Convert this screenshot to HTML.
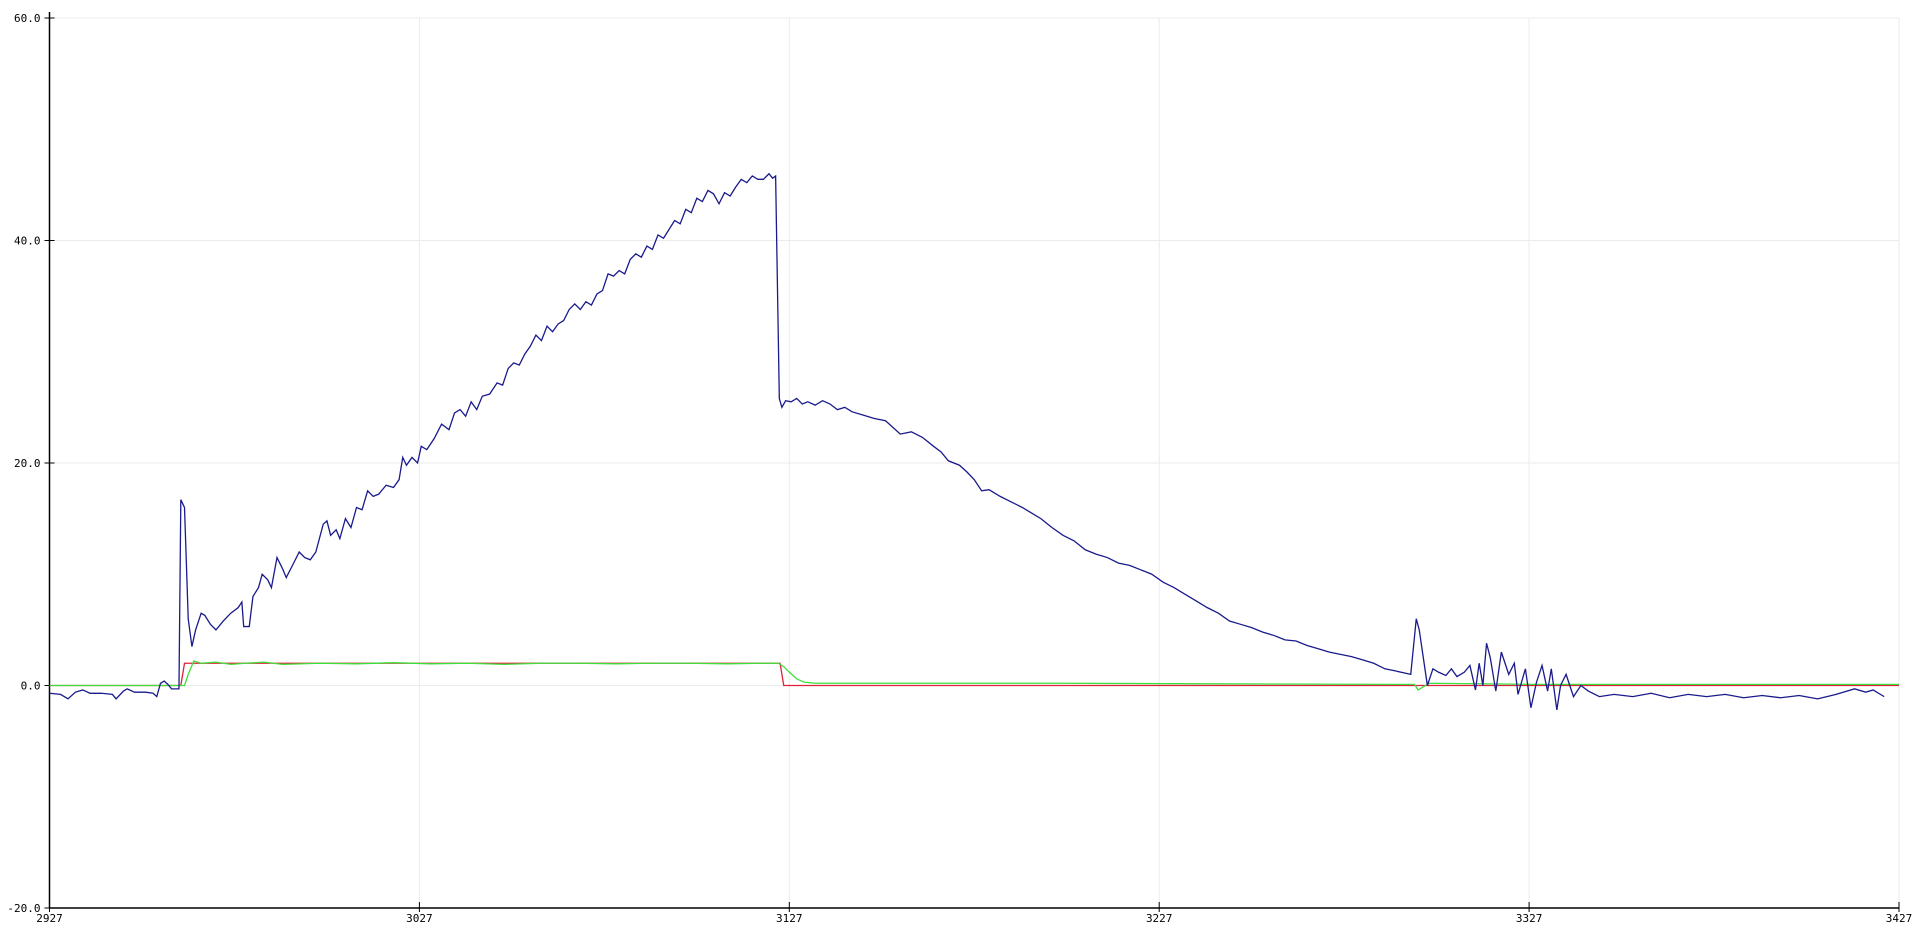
<!DOCTYPE html>
<html><head><meta charset="utf-8"><style>
html,body{margin:0;padding:0;background:#fff;}
svg{display:block;}
text{font-family:"DejaVu Sans Mono","Liberation Mono",monospace;font-size:11px;fill:#000;}
</style></head><body>
<svg id="chart" width="1915" height="937"></svg>
<script>
const xTicks=[2927,3027,3127,3227,3327,3427];
const yTicks=[-20,0,20,40,60];
const yTickLabels=["-20.0","0.0","20.0","40.0","60.0"];
const blueT=[2927,2930,2932,2934,2936,2938,2941,2944,2945,2947,2948,2950,2953,2955,2956,2957,2958,2959,2960,2962,2962.5,2963.5,2964.5,2965.5,2966.5,2968,2969,2970.5,2972,2974,2976,2978,2979,2979.5,2981,2982,2983.5,2984.5,2986,2987,2988.5,2990,2991,2993,2994.5,2996,2997.5,2999,3001,3002,3003,3004.5,3005.5,3007,3008.5,3010,3011.5,3013,3014.5,3016,3018,3020,3021.5,3022.5,3023.5,3025,3026.5,3027.5,3029,3031,3033,3035,3036.5,3038,3039.5,3041,3042.5,3044,3046,3048,3049.5,3051,3052.5,3054,3055.5,3057,3058.5,3060,3061.5,3063,3064.5,3066,3067.5,3069,3070.5,3072,3073.5,3075,3076.5,3078,3079.5,3081,3082.5,3084,3085.5,3087,3088.5,3090,3091.5,3093,3094.5,3096,3097.5,3099,3100.5,3102,3103.5,3105,3106.5,3108,3109.5,3111,3112.5,3114,3115.5,3117,3118.5,3120,3121.5,3122.5,3123.3,3124.3,3125,3126,3127.5,3129,3130.5,3132,3134,3136,3138,3140,3142,3144,3147,3150,3153,3155,3157,3160,3163,3166,3168,3170,3173,3175,3177,3179,3181,3184,3187,3190,3192,3195,3198,3201,3204,3207,3210,3213,3216,3219,3222,3225,3228,3231,3234,3237,3240,3243,3246,3249,3252,3255,3258,3261,3264,3267,3270,3273,3276,3279,3282,3285,3288,3291,3295,3296.5,3297.3,3299.5,3301,3302.5,3304.5,3306,3307.5,3309.5,3311,3312.5,3313.5,3314.5,3315.5,3316.5,3318,3319.5,3321.5,3323,3324,3326,3327.5,3329,3330.5,3332,3333,3334.5,3335.5,3337,3339,3341,3343,3346,3350,3355,3360,3365,3370,3375,3380,3385,3390,3395,3400,3405,3410,3415,3418,3420,3423,3427];
const blueV=[-0.7,-0.8,-1.2,-0.6,-0.4,-0.7,-0.7,-0.8,-1.2,-0.5,-0.3,-0.6,-0.6,-0.7,-1.0,0.2,0.4,0.1,-0.3,-0.3,16.7,16.0,6,3.5,5,6.5,6.3,5.5,5,5.8,6.5,7,7.5,5.3,5.3,8,8.8,10,9.5,8.8,11.5,10.5,9.7,11,12,11.5,11.3,12,14.5,14.8,13.5,14,13.2,15,14.2,16,15.8,17.5,17,17.2,18,17.8,18.5,20.5,19.8,20.5,20,21.5,21.2,22.2,23.5,23,24.5,24.8,24.2,25.5,24.8,26,26.2,27.2,27,28.5,29,28.8,29.8,30.5,31.5,31,32.3,31.8,32.5,32.8,33.8,34.3,33.8,34.5,34.2,35.2,35.5,37,36.8,37.3,37,38.3,38.8,38.5,39.5,39.2,40.5,40.2,41,41.8,41.5,42.8,42.5,43.8,43.5,44.5,44.2,43.3,44.3,44,44.8,45.5,45.2,45.8,45.5,45.5,46,45.6,45.8,25.8,25,25.6,25.5,25.8,25.3,25.5,25.2,25.6,25.3,24.8,25,24.6,24.3,24,23.8,23.2,22.6,22.8,22.3,21.5,21,20.2,19.8,19.2,18.5,17.5,17.6,17,16.5,16,15.6,15,14.2,13.5,13,12.2,11.8,11.5,11,10.8,10.4,10,9.3,8.8,8.2,7.6,7,6.5,5.8,5.5,5.2,4.8,4.5,4.1,4.0,3.6,3.3,3.0,2.8,2.6,2.3,2.0,1.5,1.3,1.0,6.0,5.0,0,1.5,1.2,0.9,1.5,0.8,1.2,1.8,-0.4,2.0,0,3.8,2.5,-0.5,3.0,1.0,2.0,-0.8,1.5,-2.0,0.3,1.8,-0.5,1.5,-2.2,0,1.0,-1.0,0,-0.5,-1.0,-0.8,-1.0,-0.7,-1.1,-0.8,-1.0,-0.8,-1.1,-0.9,-1.1,-0.9,-1.2,-0.8,-0.3,-0.6,-0.4,-1.0];
const redT=[2927,2962.5,2963.5,3124.5,3125.5,3427];
const redV=[0,0,2,2,0,0];
const greenT=[2927,2963.5,2964.5,2966,2968,2972,2976,2980,2985,2990,3000,3010,3020,3030,3040,3050,3060,3070,3080,3090,3100,3110,3120,3124,3125.5,3127,3129,3131,3134,3200,3290,3296,3297,3300,3330,3427];
const greenV=[0,0,1,2.2,2,2.1,1.9,2.0,2.1,1.9,2.0,1.95,2.05,1.95,2.0,1.9,2.0,2.0,1.95,2.0,2.0,1.95,2.0,2.0,1.7,1.2,0.6,0.3,0.2,0.2,0.1,0.1,-0.4,0.2,0.1,0.1];

const X0=49.5,X1=1899,Y0=908,Y1=18,TMIN=2927,TMAX=3427,VMIN=-20,VMAX=60;
const sx=t=>X0+(t-TMIN)/(TMAX-TMIN)*(X1-X0);
const sy=v=>Y0-(v-VMIN)/(VMAX-VMIN)*(Y0-Y1);
const svg=document.getElementById('chart');
const NS='http://www.w3.org/2000/svg';
function mk(tag,attrs,parent){const e=document.createElementNS(NS,tag);for(const k in attrs)e.setAttribute(k,attrs[k]);(parent||svg).appendChild(e);return e;}
xTicks.forEach((t,i)=>{
  const g=mk('line',{x1:sx(t),x2:sx(t),y1:Y1,y2:Y0,stroke:'#ebebeb','stroke-width':1});
  
  
  const tk=mk('line',{x1:sx(t),x2:sx(t),y1:Y0-6,y2:Y0+4,stroke:'#000'});
  
  
  const lb=mk('text',{x:sx(t),y:Y0+14,'text-anchor':'middle'});lb.textContent=t;
  
  
});
yTicks.forEach((v,i)=>{
  const g=mk('line',{x1:X0,x2:X1,y1:sy(v),y2:sy(v),stroke:'#ebebeb','stroke-width':1});
  
  
  const tk=mk('line',{x1:X0-5,x2:X0+5,y1:sy(v),y2:sy(v),stroke:'#000'});
  
  
  const lb=mk('text',{x:X0-9,y:sy(v)+4,'text-anchor':'end'});lb.textContent=yTickLabels[i];
  
  
});
const ax=mk('line',{x1:X0,x2:X0,y1:Y1-6,y2:Y0,stroke:'#000','stroke-width':1.5});


const ay=mk('line',{x1:X0,x2:X1,y1:Y0,y2:Y0,stroke:'#000','stroke-width':1.5});


function series(T,V,color,name){
  const p=mk('polyline',{points:T.map((t,i)=>sx(t)+','+sy(V[i])).join(' '),fill:'none',stroke:color,'stroke-width':1.3});
  
  
}
series(redT,redV,'#e0203a','red-series-line');
series(greenT,greenV,'#3ce03c','green-series-line');
series(blueT,blueV,'#1a1a8c','blue-series-line');
</script>
</body></html>
